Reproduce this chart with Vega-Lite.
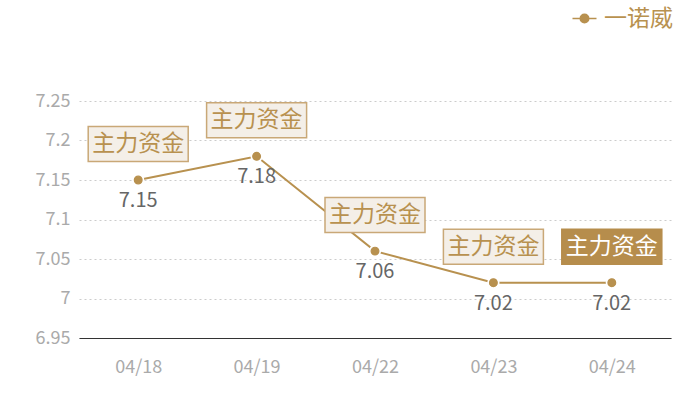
{
  "$schema": "https://vega.github.io/schema/vega-lite/v6.json",
  "autosize": "none",
  "width": 592,
  "height": 237,
  "padding": {"left": 79, "top": 101, "right": 29, "bottom": 62},
  "background": "#ffffff",
  "config": {
    "view": {"stroke": null},
    "font": "Noto Sans CJK SC"
  },
  "data": {
    "values": [
      {"date": "04/18", "value": 7.15, "name": "一诺威", "tag": "主力资金", "latest": false},
      {"date": "04/19", "value": 7.18, "name": "一诺威", "tag": "主力资金", "latest": false},
      {"date": "04/22", "value": 7.06, "name": "一诺威", "tag": "主力资金", "latest": false},
      {"date": "04/23", "value": 7.02, "name": "一诺威", "tag": "主力资金", "latest": false},
      {"date": "04/24", "value": 7.02, "name": "一诺威", "tag": "主力资金", "latest": true}
    ]
  },
  "encoding": {
    "x": {
      "field": "date",
      "type": "ordinal",
      "sort": null,
      "scale": {"type": "point", "padding": 0.5},
      "axis": {
        "title": null,
        "labelAngle": 0,
        "labelColor": "#aaaaaa",
        "labelFontSize": 18,
        "labelPadding": 20,
        "ticks": false,
        "domainColor": "#333333",
        "domainWidth": 1,
        "grid": false
      }
    },
    "y": {
      "field": "value",
      "type": "quantitative",
      "scale": {"domain": [6.95, 7.25], "zero": false, "nice": false},
      "axis": {
        "title": null,
        "values": [6.95, 7, 7.05, 7.1, 7.15, 7.2, 7.25],
        "format": "~g",
        "labelColor": "#aaaaaa",
        "labelFontSize": 18,
        "labelPadding": 9,
        "ticks": false,
        "domain": false,
        "gridColor": "#cccccc",
        "gridDash": [2, 3],
        "gridWidth": 1
      }
    }
  },
  "layer": [
    {
      "mark": {"type": "line", "color": "#B8914F", "strokeWidth": 2}
    },
    {
      "mark": {"type": "point", "filled": true, "size": 150, "opacity": 1, "color": "#ffffff"}
    },
    {
      "mark": {"type": "point", "filled": true, "size": 60, "opacity": 1, "stroke": "#B8914F", "strokeWidth": 1.2},
      "encoding": {
        "color": {
          "field": "name",
          "type": "nominal",
          "scale": {"range": ["#B8914F"]},
          "legend": {
            "title": null,
            "orient": "none",
            "legendX": 494,
            "legendY": -94,
            "symbolType": "M-3.1,0L3.1,0M1.1,0A1.1,1.1,0,1,1,-1.1,0A1.1,1.1,0,1,1,1.1,0Z",
            "symbolSize": 60,
            "labelFontSize": 23,
            "labelColor": "#B8914F",
            "labelOffset": 8
          }
        }
      }
    },
    {
      "mark": {
        "type": "point",
        "shape": "M-1,-0.35L1,-0.35L1,0.35L-1,0.35Z",
        "size": 10000,
        "yOffset": -36,
        "strokeWidth": 1.5,
        "opacity": 1,
        "filled": true
      },
      "encoding": {
        "fill": {
          "condition": {"test": "datum.latest", "value": "#B68D4C"},
          "value": "#F4EFE8"
        },
        "stroke": {
          "condition": {"test": "datum.latest", "value": "#B68D4C"},
          "value": "#C9A877"
        }
      }
    },
    {
      "mark": {"type": "text", "yOffset": -36, "fontSize": 23, "baseline": "middle", "align": "center"},
      "encoding": {
        "text": {"field": "tag"},
        "color": {
          "condition": {"test": "datum.latest", "value": "#ffffff"},
          "value": "#B8914F"
        }
      }
    },
    {
      "mark": {"type": "text", "yOffset": 21, "fontSize": 20, "baseline": "middle", "align": "center", "color": "#666666"},
      "encoding": {
        "text": {"field": "value", "type": "quantitative", "format": ".2f"}
      }
    }
  ]
}
